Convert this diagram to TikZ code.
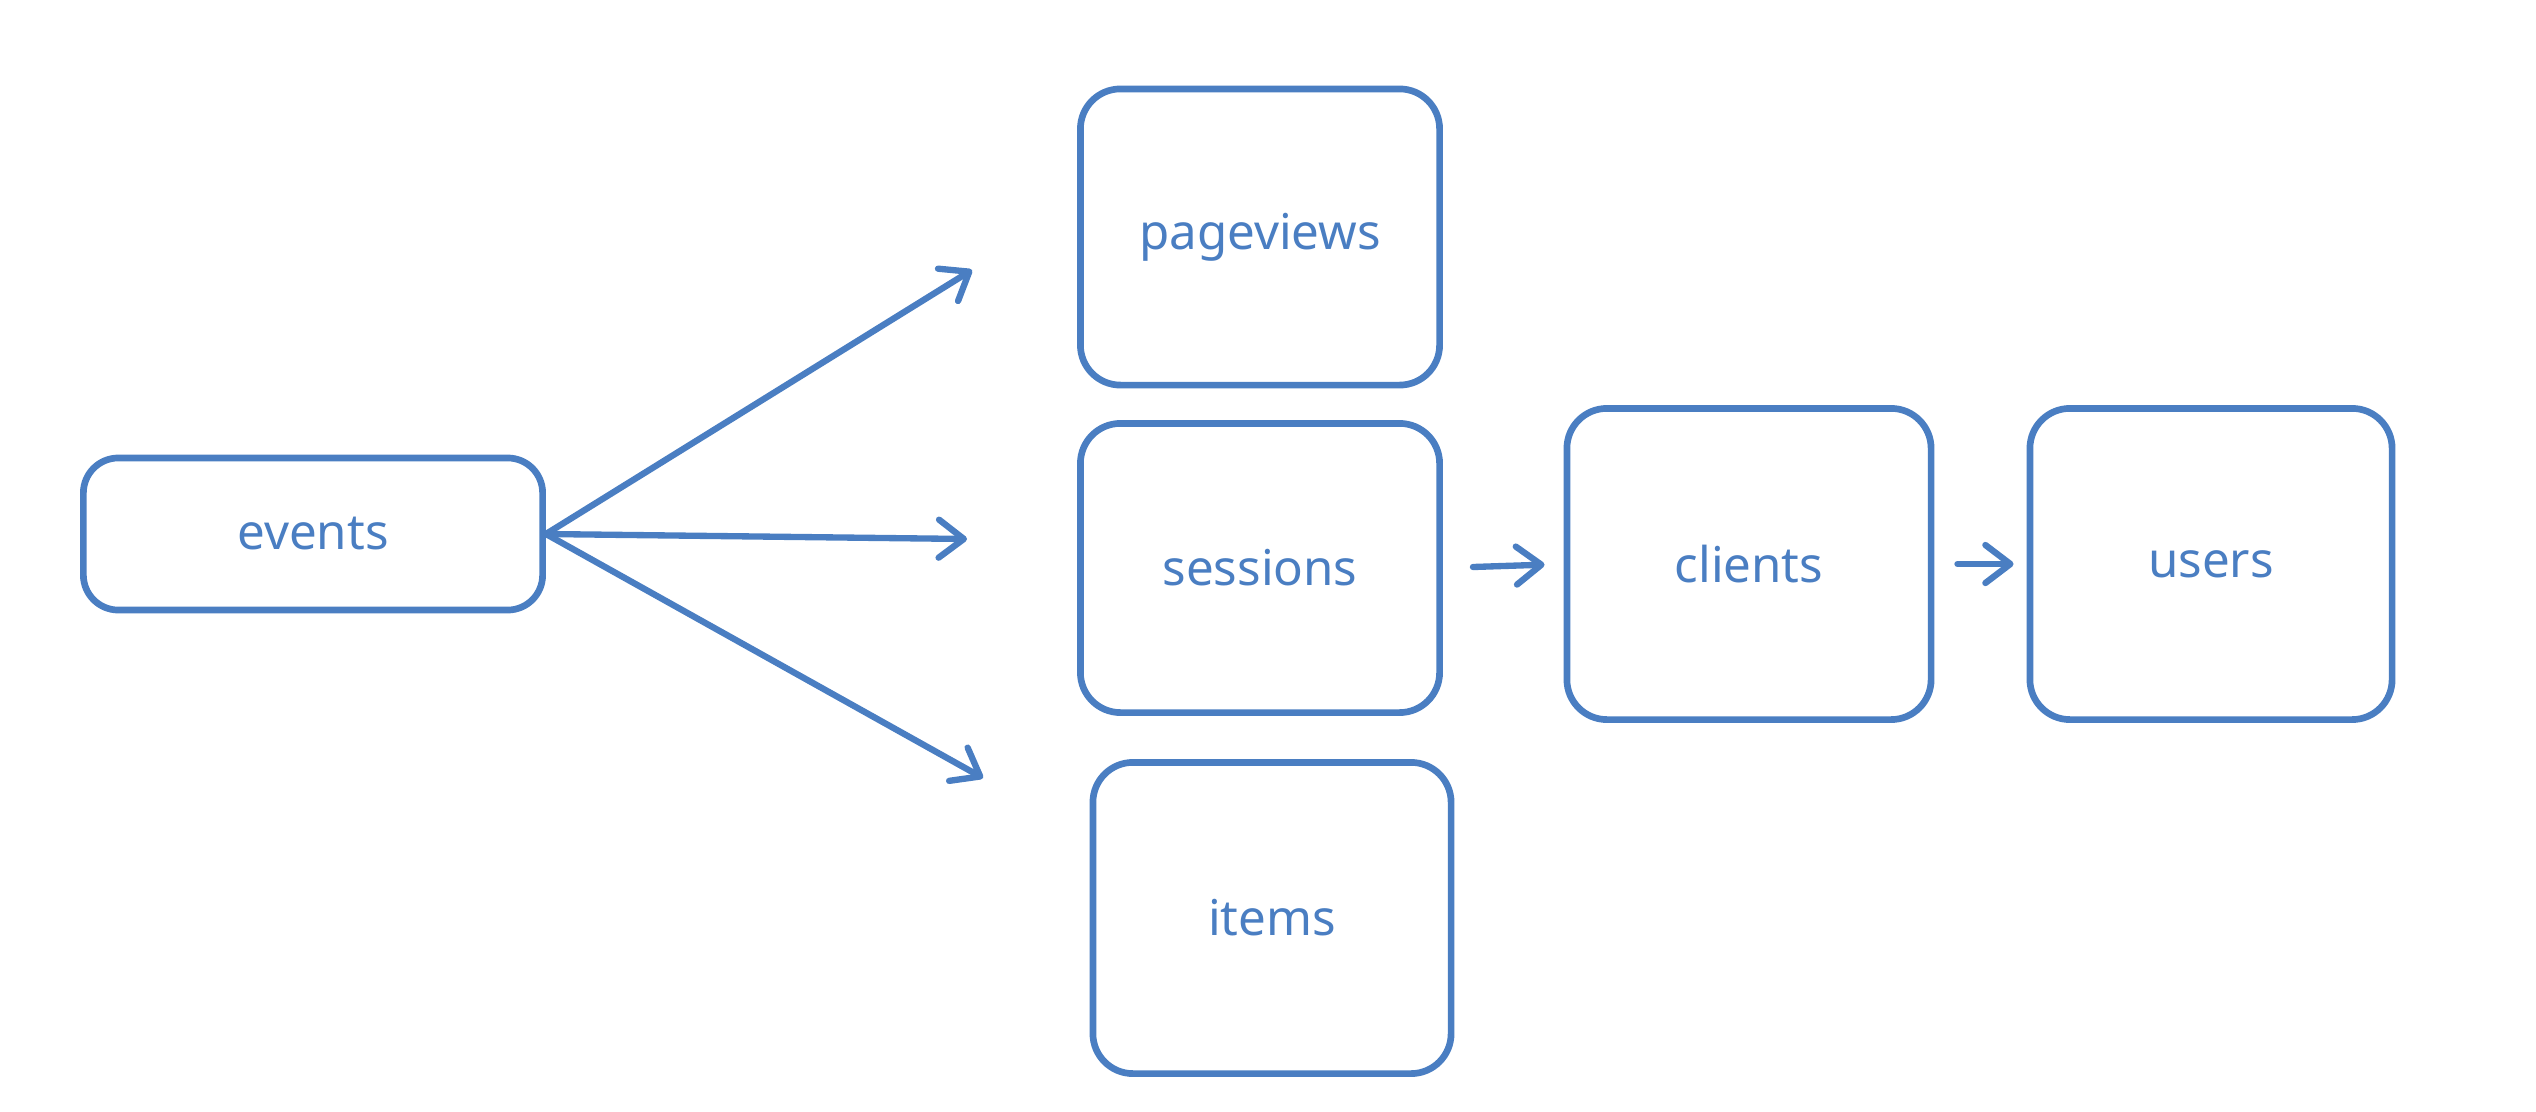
\documentclass[tikz,border=0pt]{standalone}
\usepackage{fontspec}
\setmainfont{Noto Sans}
\usetikzlibrary{arrows.meta}
\definecolor{ink}{HTML}{4A7EC2}
\tikzset{
  box/.style={draw=ink, line width=1.9pt, rounded corners=0.4cm, fill=white,
    text=ink, font=\fontsize{14}{17}\selectfont, inner sep=0pt},
  conn/.style={draw=ink, line width=1.8pt, line cap=round,
    -{Straight Barb[length=0.25cm, width=0.38cm, line cap=round, line join=round]}}
}
\begin{document}
\begin{tikzpicture}[x=0.01cm, y=-0.01cm]
\useasboundingbox (0,0) rectangle (2536,1112);
\node[box, minimum width=4.59cm, minimum height=1.52cm, rounded corners=0.35cm] (events) at (313,534) {events};
\node[box, minimum width=3.59cm, minimum height=2.96cm] (pageviews) at (1260,237) {pageviews};
\node[box, minimum width=3.59cm, minimum height=2.89cm] (sessions) at (1260,568) {sessions};
\node[box, minimum width=3.58cm, minimum height=3.11cm] (items) at (1272,918) {items};
\node[box, minimum width=3.64cm, minimum height=3.11cm] (clients) at (1749,564) {clients};
\node[box, minimum width=3.62cm, minimum height=3.11cm] (users) at (2211,564) {users};
\coordinate (pvend) at (972,270);
\coordinate (seend) at (967,539);
\coordinate (itend) at (983,778);
\draw[conn] (events.east) -- (pvend);
\draw[conn] (events.east) -- (seend);
\draw[conn] (events.east) -- (itend);
\draw[conn, shorten <=0.3cm, shorten >=0.19cm] (sessions.east) -- (clients.west);
\draw[conn, shorten <=0.23cm, shorten >=0.13cm] (clients.east) -- (users.west);
\end{tikzpicture}
\end{document}
